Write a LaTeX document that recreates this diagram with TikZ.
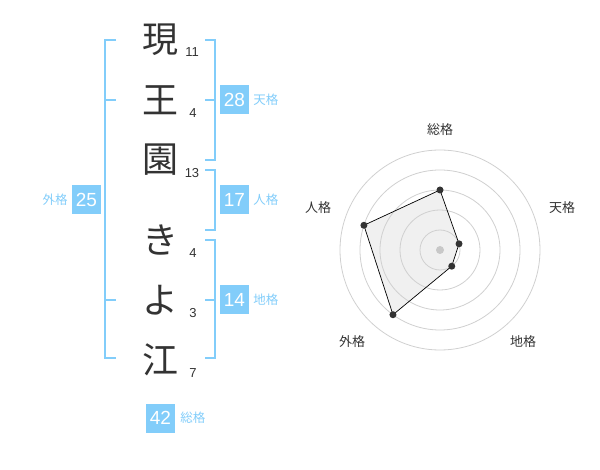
\documentclass[tikz,border=0pt]{standalone}
\usepackage{fontspec}
\setmainfont{Liberation Sans}
\newfontfamily\jpfont{Noto Sans CJK JP}
\usetikzlibrary{positioning}
\definecolor{kakublue}{RGB}{130,205,250}
\definecolor{inkgray}{RGB}{51,51,51}
\definecolor{ringgray}{RGB}{208,208,208}
\definecolor{areagray}{RGB}{240,240,240}

\begin{document}
\begin{tikzpicture}[x=1pt, y=-1pt,
    kanji/.style={font=\jpfont\fontsize{36}{36}\selectfont, text=inkgray, inner sep=0pt},
    strokes/.style={font=\fontsize{13}{13}\selectfont, text=inkgray, inner sep=0pt},
    score/.style={fill=kakublue, text=white, font=\fontsize{19}{19}\selectfont, minimum width=29pt, minimum height=29pt, inner sep=0pt},
    kaku/.style={font=\jpfont\fontsize{12.5}{12.5}\selectfont, text=kakublue, inner sep=0pt},
    bracket/.style={draw=kakublue, line width=2pt},
    ring/.style={draw=ringgray, line width=0.8pt},
    axis/.style={font=\jpfont\fontsize{13}{13}\selectfont, text=inkgray, inner sep=0pt},
    dot/.style={circle, fill=inkgray, inner sep=0pt, minimum size=7pt}
]
\useasboundingbox (0,0) rectangle (600,470);

% name
\node[kanji] (c1) at (160,40) {現};
\node[kanji] (c2) at (160,100) {王};
\node[kanji] (c3) at (160,160) {園};
\node[kanji] (c4) at (160,240) {き};
\node[kanji] (c5) at (160,300) {よ};
\node[kanji] (c6) at (160,360) {江};

\node[strokes] (n1) at (192,52) {11};
\node[strokes] (n2) at (193,113) {4};
\node[strokes] (n3) at (192,173) {13};
\node[strokes] (n4) at (193,253) {4};
\node[strokes] (n5) at (193,313) {3};
\node[strokes] (n6) at (193,373) {7};

% brackets
\draw[bracket] (116,40) -| (105,358) -- (116,358);
\draw[bracket] (105,100) -- (116,100);
\draw[bracket] (105,300) -- (116,300);
\draw[bracket] (205,40) -| (215,160) -- (205,160);
\draw[bracket] (205,100) -- (215,100);
\draw[bracket] (205,170) -| (215,230) -- (205,230);
\draw[bracket] (205,240) -| (215,358) -- (205,358);
\draw[bracket] (205,300) -- (215,300);

% scores
\node[score] (gai) at (86.5,200) {25};
\node[kaku, left=4pt of gai] {外格};
\node[score] (ten) at (234.5,100) {28};
\node[kaku, right=4pt of ten] {天格};
\node[score] (jin) at (234.5,200) {17};
\node[kaku, right=4pt of jin] {人格};
\node[score] (chi) at (234.5,300) {14};
\node[kaku, right=4pt of chi] {地格};
\node[score] (sou) at (160.5,418) {42};
\node[kaku, right=5pt of sou] {総格};

% radar
\coordinate (ctr) at (440,250);
\coordinate (pSou) at ([shift={(-90:60)}]ctr);
\coordinate (pTen) at ([shift={(-18:20)}]ctr);
\coordinate (pChi) at ([shift={(54:20)}]ctr);
\coordinate (pGai) at ([shift={(126:80)}]ctr);
\coordinate (pJin) at ([shift={(-162:80)}]ctr);
\fill[areagray] (pSou) -- (pTen) -- (pChi) -- (pGai) -- (pJin) -- cycle;
\foreach \r in {20,40,...,100}
    \draw[ring] (ctr) circle[radius=\r pt];
\fill[ringgray!90!gray] (ctr) circle[radius=4pt];
\draw[black, line width=0.7pt] (pSou) -- (pTen) -- (pChi) -- (pGai) -- (pJin) -- cycle;
\foreach \p in {pSou,pTen,pChi,pGai,pJin}
    \node[dot] at (\p) {};

\node[axis] (lSou) at (440,130) {総格};
\node[axis] (lTen) at (562,208) {天格};
\node[axis] (lJin) at (318,208) {人格};
\node[axis] (lGai) at (352,342) {外格};
\node[axis] (lChi) at (523,342) {地格};
\end{tikzpicture}
\end{document}
